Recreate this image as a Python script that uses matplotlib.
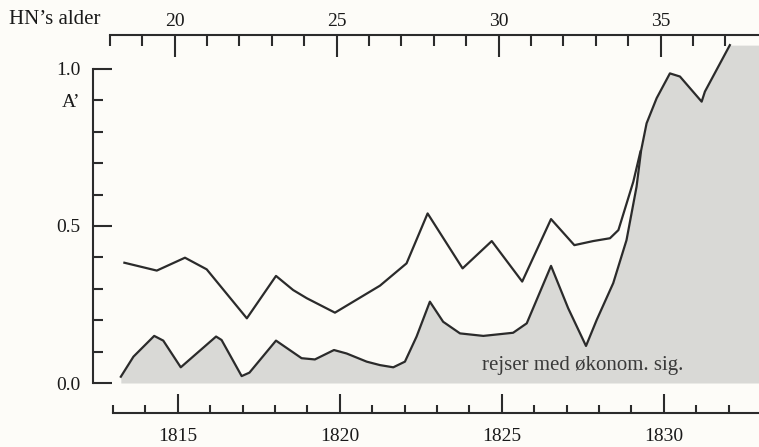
import matplotlib
matplotlib.use("Agg")
import matplotlib.pyplot as plt
import numpy as np

plt.rcParams['font.family'] = ['Liberation Serif', 'DejaVu Serif']

# lower curve (shaded) - reiser med økonomisk signifikans
low_years = [1813.24, 1813.63, 1814.27, 1814.55, 1815.09, 1816.18, 1816.35, 1816.97,
             1817.21, 1818.03, 1818.82, 1819.23, 1819.82, 1820.21, 1820.83, 1821.24,
             1821.65, 1822.01, 1822.37, 1822.78, 1823.19, 1823.71, 1824.43, 1825.35,
             1825.77, 1826.52, 1827.05, 1827.60, 1827.93, 1828.44, 1828.85, 1829.16,
             1829.30, 1829.47, 1829.78, 1830.19, 1830.50, 1831.17, 1831.27, 1832.04]
low_vals = [0.020, 0.084, 0.150, 0.135, 0.050, 0.148, 0.137, 0.022,
            0.033, 0.135, 0.079, 0.075, 0.105, 0.094, 0.068, 0.057,
            0.050, 0.068, 0.148, 0.259, 0.195, 0.158, 0.150, 0.160,
            0.190, 0.373, 0.238, 0.118, 0.201, 0.318, 0.455, 0.625,
            0.740, 0.827, 0.907, 0.986, 0.976, 0.896, 0.928, 1.076]

# upper curve (all travels)
up_years = [1813.35, 1814.35, 1815.22, 1815.89, 1817.13, 1818.03, 1818.56, 1818.98,
            1819.85, 1821.24, 1822.06, 1822.71, 1823.79, 1824.69, 1825.63, 1826.52,
            1827.24, 1827.82, 1828.34, 1828.60, 1829.06, 1829.28]
up_vals = [0.383, 0.358, 0.399, 0.362, 0.206, 0.341, 0.296, 0.270,
           0.224, 0.310, 0.381, 0.540, 0.365, 0.452, 0.323, 0.522,
           0.439, 0.452, 0.461, 0.487, 0.641, 0.737]

fill_end_year = 1833.0
birth_year = 1794.9

year_major = [1815, 1820, 1825, 1830]
year_minor = [y for y in range(1813, 1833) if y not in year_major]
age_major = [20, 25, 30, 35]
age_minor = [a for a in range(18, 38) if a not in age_major]
y_major = [0.0, 0.5, 1.0]
y_minor = [0.1, 0.2, 0.3, 0.4, 0.6, 0.7, 0.8, 0.9]

ink = '#2b2b2b'
bg = '#fdfcf8'

fig = plt.figure(figsize=(7.59, 4.47), dpi=100, facecolor=bg)
ax = fig.add_axes([0, 0, 1, 1])
ax.set_facecolor(bg)
ax.set_xlim(1809.51, 1832.94)
ax.set_ylim(-0.2038, 1.2197)

ax.fill_between(low_years + [fill_end_year], low_vals + [low_vals[-1]], 0,
                color='#d9d9d6', lw=0)
ax.plot(low_years, low_vals, color=ink, lw=1.6, solid_joinstyle='round')
ax.plot(up_years, up_vals, color=ink, lw=1.6, solid_joinstyle='round')

ax.text(1827.49, 0.057, 'rejser med økonom. sig.', ha='center', va='center',
        fontsize=15, color='#3a3a3a')

for s in ['right', 'top']:
    ax.spines[s].set_visible(False)
ax.spines['left'].set_position(('data', 1812.38))
ax.spines['left'].set_bounds(0, 1)
ax.spines['bottom'].set_position(('data', -0.0955))
ax.spines['bottom'].set_bounds(1813, 1833)
for s in ['left', 'bottom']:
    ax.spines[s].set_linewidth(1.5)
    ax.spines[s].set_color(ink)

ax.set_yticks(y_major, labels=['0.0', '0.5', '1.0'])
ax.set_yticks(y_minor, labels=['', '', '', '', '', '', '', 'A’'], minor=True)
ax.set_xticks(year_major, labels=[str(y) for y in year_major])
ax.set_xticks(year_minor, minor=True)

ax.tick_params(axis='y', which='both', direction='in', width=1.5, color=ink,
               labelsize=14, labelcolor='#1a1a1a', pad=9)
ax.tick_params(axis='y', which='major', length=14)
ax.tick_params(axis='y', which='minor', length=7)
ax.tick_params(axis='x', which='both', direction='in', width=1.5, color=ink,
               labelsize=14, labelcolor='#1a1a1a', pad=11)
ax.tick_params(axis='x', which='major', length=14)
ax.tick_params(axis='x', which='minor', length=6)

# top axis: HN's age
ax2 = ax.twiny()
ax2.patch.set_visible(False)
ax2.set_xlim(1809.51 - birth_year, 1832.94 - birth_year)
for s in ['left', 'right', 'bottom']:
    ax2.spines[s].set_visible(False)
ax2.spines['top'].set_position(('data', 1.108))
ax2.spines['top'].set_bounds(18, 40)
ax2.spines['top'].set_linewidth(1.5)
ax2.spines['top'].set_color(ink)
ax2.set_xticks(age_major, labels=[str(a) for a in age_major])
ax2.set_xticks(age_minor, minor=True)
ax2.tick_params(axis='x', which='both', direction='in', width=1.5, color=ink,
                labelsize=14, labelcolor='#1a1a1a', pad=4)
ax2.tick_params(axis='x', which='major', length=16)
ax2.tick_params(axis='x', which='minor', length=8)

fig.text(0.012, 1 - 20 / 447, 'HN’s alder', ha='left', va='center',
         fontsize=15, color='#1a1a1a')

fig.savefig('out.png', dpi=100, facecolor=bg)
